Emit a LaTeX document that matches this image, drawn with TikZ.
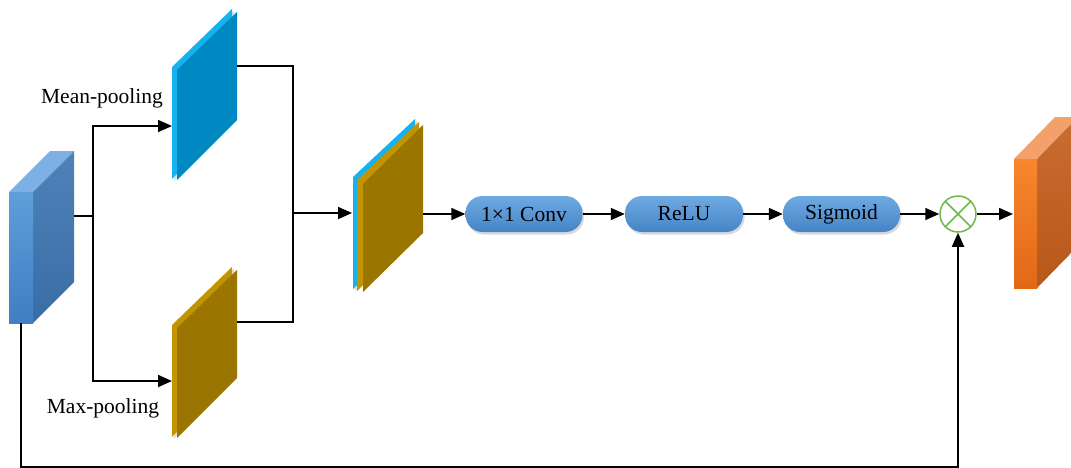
\documentclass[tikz,border=0pt]{standalone}
\usepackage{fontspec}
\setmainfont{Liberation Serif}
\usetikzlibrary{arrows.meta,shadows,calc}
\definecolor{boxtop}{HTML}{6EAAE2}
\definecolor{boxbot}{HTML}{4584C6}
\definecolor{cyanL}{HTML}{16B2F0}
\definecolor{cyanD}{HTML}{0088C2}
\definecolor{goldL}{HTML}{C29400}
\definecolor{goldD}{HTML}{9A7500}
\definecolor{inFrontT}{HTML}{5E9EDA}
\definecolor{inFrontB}{HTML}{3F7FC2}
\definecolor{inTop}{HTML}{7DB1E4}
\definecolor{inSideT}{HTML}{4F82B8}
\definecolor{inSideB}{HTML}{3A6DA6}
\definecolor{orFrontT}{HTML}{F7862E}
\definecolor{orFrontB}{HTML}{E26815}
\definecolor{orTop}{HTML}{F3A06A}
\definecolor{orSideT}{HTML}{C96D30}
\definecolor{orSideB}{HTML}{B9571A}
\definecolor{mulgreen}{HTML}{70B84A}
\tikzset{
  conn/.style={draw=black, line width=1.8pt},
  arr/.style={conn, -{Triangle[length=14pt,width=12pt]}},
  procbox/.style={rounded corners=17pt, minimum height=36pt, inner sep=0pt,
     top color=boxtop, bottom color=boxbot, draw=none,
     drop shadow={opacity=0.3, shadow xshift=1.5pt, shadow yshift=-2.5pt},
     font=\fontsize{21.5}{25}\selectfont},
  lbl/.style={font=\fontsize{21.5}{25}\selectfont, inner sep=0pt},
  plateshadow/.style={drop shadow={opacity=0.25, shadow xshift=2pt, shadow yshift=-2pt}}
}
\begin{document}
\begin{tikzpicture}[x=1pt,y=-1pt]
\useasboundingbox (0,0) rectangle (1071,467);

% ---------- input block ----------
\fill[inTop] (9,192) -- (50,151) -- (74,151) -- (33,192) -- cycle;
\shade[top color=inSideT, bottom color=inSideB] (33,192) -- (74,151) -- (74,282) -- (33,323) -- cycle;
\shade[top color=inFrontT, bottom color=inFrontB] (9,192) rectangle (33,323);

% ---------- mean plate ----------
\fill[cyanL, plateshadow] (172,67) -- (232,9) -- (232,118) -- (172,179) -- cycle;
\fill[cyanD] (177,70) -- (237,12) -- (237,120) -- (177,180) -- cycle;

% ---------- max plate ----------
\fill[goldL, plateshadow] (172,325) -- (232,267) -- (232,376) -- (172,437) -- cycle;
\fill[goldD] (177,328) -- (237,270) -- (237,378) -- (177,438) -- cycle;

% ---------- concat plate ----------
\fill[cyanL, plateshadow] (353,177) -- (415,119) -- (415,229) -- (353,289) -- cycle;
\fill[goldL] (357,180) -- (419,122) -- (419,231) -- (357,291) -- cycle;
\fill[goldD] (363,184) -- (423,125) -- (423,233) -- (363,292) -- cycle;

% ---------- output block ----------
\fill[orTop] (1014,159) -- (1055,117) -- (1078,117) -- (1037,159) -- cycle;
\shade[top color=orSideT, bottom color=orSideB] (1037,159) -- (1078,117) -- (1078,246) -- (1037,288) -- cycle;
\shade[top color=orFrontT, bottom color=orFrontB] (1014,159) rectangle (1037,288);

% ---------- labels ----------
\node[lbl] (meanlbl) at (102,98) {Mean-pooling};
\node[lbl] (maxlbl) at (103,408) {Max-pooling};

% ---------- process boxes ----------
\node[procbox, minimum width=117pt] (conv) at (524,214) {1×1 Conv};
\node[procbox, minimum width=118pt] (relu) at (684,214) {ReLU};
\node[procbox, minimum width=117pt] (sig) at (841.5,214) {Sigmoid};
\node[circle, draw=mulgreen, line width=1.5pt, minimum size=36pt, inner sep=0pt] (mul) at (958,214) {};
\draw[mulgreen, line width=1.5pt] (mul.north west) -- (mul.south east) (mul.north east) -- (mul.south west);

% ---------- anchor coordinates ----------
\coordinate (inR) at (74,216);
\coordinate (sp) at (93,216);
\coordinate (meanIn) at (172,126);
\coordinate (maxIn) at (172,381);
\coordinate (meanOut) at (237,66);
\coordinate (maxOut) at (237,322);
\coordinate (jn) at (293,213);
\coordinate (catIn) at (352,213);
\coordinate (catOut) at (423,214);
\coordinate (outIn) at (1013,214);
\coordinate (inB) at (21,323);
\coordinate (bot) at (21,467.3);

% ---------- connectors ----------
\draw[conn] (inR) -- (sp);
\draw[arr] (sp) |- (meanIn);
\draw[arr] (sp) |- (maxIn);
\draw[conn] (meanOut) -| (jn) |- (maxOut);
\draw[arr] (jn) -- (catIn);
\draw[arr] (catOut) -- (conv.west);
\draw[arr] (conv.east) -- (relu.west);
\draw[arr] (relu.east) -- (sig.west);
\draw[arr] (sig.east) -- (mul.west);
\draw[arr] (mul.east) -- (outIn);
\draw[arr] (inB) -- (bot) -| (mul.south);
\end{tikzpicture}
\end{document}
